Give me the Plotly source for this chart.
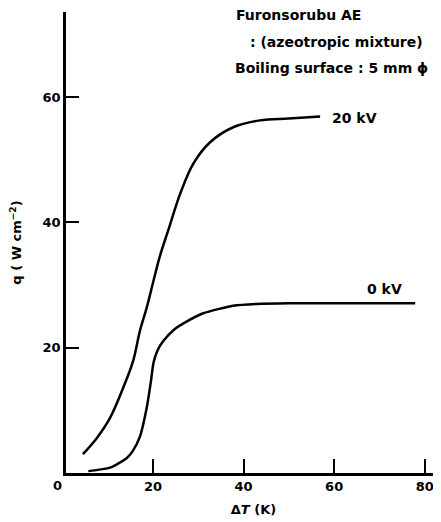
import plotly.graph_objects as go

# 20 kV curve
x_20kv = [4.5, 7.6, 10.5, 13.4, 15.6, 17.1, 18.6, 20.1, 21.5, 23.6, 26.0, 28.9, 32.6, 37.7, 43.6, 50.0, 56.9]
q_20kv = [3.0, 5.6, 8.8, 13.6, 17.9, 22.7, 26.4, 30.7, 34.6, 39.3, 44.6, 49.4, 52.8, 55.2, 56.3, 56.6, 56.9]
# 0 kV curve
x_0kv = [5.7, 10.5, 14.2, 15.5, 17.1, 18.6, 19.5, 20.1, 21.0, 22.3, 24.5, 27.0, 31.1, 37.7, 42.9, 50.0, 60.0, 70.0, 77.9]
q_0kv = [0.3, 0.85, 2.4, 3.5, 5.8, 10.4, 14.5, 17.6, 19.6, 21.1, 22.8, 24.0, 25.5, 26.7, 27.0, 27.1, 27.1, 27.1, 27.1]

x_ticks = [0, 20, 40, 60, 80]
y_ticks = [20, 40, 60]

FONT = "DejaVu Sans"
X_MIN, X_MAX = 0.77, 83.6

fig = go.Figure()
for xs, ys, sm in [(x_20kv, q_20kv, 1.0), (x_0kv, q_0kv, 0.6)]:
    fig.add_trace(go.Scatter(x=xs, y=ys, mode="lines",
                             line=dict(color="black", width=2.5, shape="spline", smoothing=sm),
                             showlegend=False, hoverinfo="skip"))

notes = [
    (37.9, 73.1, "Furonsorubu AE"),
    (41.0, 68.8, ": (azeotropic mixture)"),
    (37.7, 64.6, "Boiling surface : 5 mm ϕ"),
    (59.1, 56.6, "20 kV"),
    (66.9, 29.3, "0 kV"),
]
for x, y, t in notes:
    fig.add_annotation(x=x, y=y, text="<b>" + t + "</b>", showarrow=False, xanchor="left", yanchor="middle",
                       font=dict(family=FONT, size=14, color="black"))

# tick label for the x value that lies just left of the drawn axis
for v in x_ticks:
    if v < X_MIN:
        fig.add_annotation(x=(v - X_MIN) / (X_MAX - X_MIN), xref="paper", y=0, yref="paper",
                           text="<b>%d</b>" % v, showarrow=False,
                           xanchor="center", yanchor="top", xshift=-5, yshift=-3,
                           font=dict(family=FONT, size=13, color="black"))

fig.update_layout(
    width=433, height=514,
    margin=dict(l=58, r=0, t=4, b=49),
    plot_bgcolor="white", paper_bgcolor="white",
    font=dict(family=FONT, size=13, color="black"),
    xaxis=dict(range=[X_MIN, X_MAX], tickvals=[v for v in x_ticks if v >= X_MIN],
               ticktext=["<b>%d</b>" % v for v in x_ticks if v >= X_MIN],
               ticks="inside", ticklen=14, tickwidth=1.5, tickcolor="black",
               showline=True, linecolor="black", linewidth=2.5, showgrid=False, zeroline=False,
               title=dict(text="<b>Δ<i>T</i> (K)</b>", standoff=12, font=dict(size=13))),
    yaxis=dict(range=[0, 73.6], tickvals=y_ticks, ticktext=["<b>%d</b>" % v for v in y_ticks],
               ticks="inside", ticklen=13, tickwidth=1.5, tickcolor="black",
               showline=True, linecolor="black", linewidth=2.5, showgrid=False, zeroline=False,
               title=dict(text="<b>q ( W cm<sup>−2</sup>)</b>", standoff=20, font=dict(size=13))),
)

fig.write_html("out.html")
